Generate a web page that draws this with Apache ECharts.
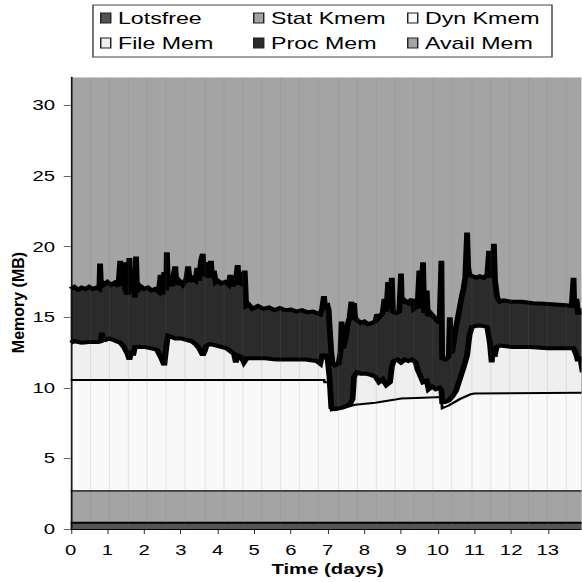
<!DOCTYPE html>
<html><head><meta charset="utf-8">
<script src="https://cdn.jsdelivr.net/npm/echarts@6/dist/echarts.min.js"></script>
<style>
html,body{margin:0;padding:0;overflow:hidden;background:#fff}
#wrap{width:582px;height:582px;overflow:hidden;position:relative;background:#fff}
#c{position:absolute;left:0;top:0;height:582px;transform-origin:0 0}
</style></head>
<body><div id="wrap"><div id="c"></div></div>
<script>
// ---- data (days, cumulative memory in MB at the top of each layer) ----
const seriesNames = ['Lotsfree','Stat Kmem','Dyn Kmem','File Mem','Proc Mem','Avail Mem'];
const xTicks = [0,1,2,3,4,5,6,7,8,9,10,11,12,13];
const yTicks = [0,5,10,15,20,25,30];

const availTop = [[0,32],[13.95,32]];
const procTop = [[0,17.0],[0.1,17.15],[0.2,16.95],[0.3,17.1],[0.4,17.0],[0.5,17.15],[0.6,17.0],[0.7,17.1],[0.78,17.0],[0.8,18.8],[0.82,17.6],[0.9,17.3],[1.0,17.5],[1.1,17.3],[1.2,17.45],[1.3,17.2],[1.35,19.0],[1.38,17.3],[1.45,18.9],[1.48,17.0],[1.55,16.6],[1.6,19.2],[1.63,16.8],[1.7,17.6],[1.75,16.4],[1.78,19.3],[1.81,16.8],[1.9,17.2],[2.0,17.0],[2.1,17.1],[2.2,16.9],[2.3,17.0],[2.4,16.8],[2.45,18.0],[2.5,16.6],[2.55,18.2],[2.6,16.9],[2.62,19.6],[2.65,17.4],[2.7,18.0],[2.75,17.2],[2.85,18.6],[2.88,17.3],[2.95,17.6],[3.05,17.3],[3.15,17.7],[3.2,18.6],[3.25,17.5],[3.3,17.8],[3.4,17.6],[3.45,18.5],[3.5,17.6],[3.55,19.0],[3.6,19.5],[3.63,17.9],[3.7,18.9],[3.73,17.8],[3.8,18.4],[3.82,19.0],[3.85,17.8],[3.9,18.3],[3.95,17.5],[4.0,17.6],[4.1,17.4],[4.2,17.5],[4.3,17.3],[4.35,18.0],[4.4,17.2],[4.5,17.6],[4.55,18.7],[4.58,17.3],[4.65,18.2],[4.7,17.2],[4.74,18.3],[4.76,17.2],[4.78,15.8],[4.85,15.9],[4.95,15.6],[5.1,15.8],[5.25,15.6],[5.4,15.7],[5.55,15.5],[5.7,15.65],[5.85,15.5],[6.0,15.55],[6.15,15.4],[6.3,15.5],[6.45,15.35],[6.6,15.4],[6.75,15.25],[6.8,15.2],[6.85,15.6],[6.9,16.5],[6.93,15.7],[7.0,15.8],[7.03,15.5],[7.05,14.5],[7.1,12.5],[7.13,11.8],[7.2,11.6],[7.3,11.7],[7.35,12.5],[7.38,14.7],[7.42,12.8],[7.5,13.6],[7.55,14.5],[7.6,15.0],[7.65,16.1],[7.68,14.8],[7.72,16.0],[7.75,15.0],[7.8,14.8],[7.9,14.6],[8.0,14.7],[8.1,14.5],[8.2,14.6],[8.3,14.7],[8.35,15.2],[8.4,15.0],[8.5,15.3],[8.55,16.3],[8.6,15.4],[8.65,17.5],[8.68,15.6],[8.75,17.8],[8.78,15.4],[8.85,15.3],[8.95,15.4],[9.0,18.1],[9.02,16.0],[9.1,16.2],[9.2,16.0],[9.3,16.3],[9.35,15.6],[9.45,15.8],[9.5,18.3],[9.53,15.6],[9.6,18.9],[9.63,15.3],[9.7,16.9],[9.73,15.1],[9.8,15.3],[9.9,15.0],[9.97,14.8],[10.05,14.6],[10.1,19.0],[10.12,12.1],[10.2,12.0],[10.3,12.2],[10.33,15.0],[10.36,12.5],[10.4,12.6],[10.45,13.5],[10.5,14.3],[10.55,15.0],[10.6,15.7],[10.65,16.4],[10.7,17.0],[10.75,17.8],[10.8,21.0],[10.83,18.5],[10.87,18.0],[10.95,17.9],[11.05,17.8],[11.15,17.9],[11.25,17.8],[11.35,18.0],[11.4,19.7],[11.43,17.8],[11.5,18.2],[11.53,20.2],[11.56,17.6],[11.62,16.4],[11.7,16.1],[11.8,16.2],[12.0,16.1],[12.3,16.1],[12.6,16.0],[12.9,15.95],[13.2,15.9],[13.5,15.85],[13.65,15.8],[13.7,17.8],[13.72,15.8],[13.78,16.3],[13.82,15.2],[13.88,15.6],[13.95,15.2]];
const fileTop = [[0,13.2],[0.1,13.3],[0.3,13.2],[0.5,13.25],[0.75,13.25],[0.82,13.3],[0.85,13.9],[0.88,13.5],[0.95,13.4],[1.05,13.5],[1.15,13.4],[1.25,13.3],[1.35,13.2],[1.45,12.9],[1.55,12.4],[1.6,12.0],[1.65,12.6],[1.7,12.3],[1.75,12.9],[1.85,12.9],[2.0,12.9],[2.2,12.8],[2.35,12.7],[2.45,12.2],[2.55,11.6],[2.58,12.3],[2.62,13.2],[2.65,13.7],[2.75,13.6],[2.85,13.5],[3.0,13.5],[3.15,13.4],[3.3,13.3],[3.4,13.1],[3.5,12.8],[3.6,12.3],[3.65,12.6],[3.7,13.0],[3.8,13.1],[3.95,13.0],[4.1,12.9],[4.25,12.8],[4.35,12.6],[4.45,12.4],[4.5,11.8],[4.55,12.3],[4.65,12.2],[4.72,11.8],[4.8,12.1],[5.0,12.1],[5.3,12.1],[5.6,12.0],[6.0,12.0],[6.4,12.0],[6.7,11.9],[6.8,11.7],[6.85,12.3],[6.95,12.3],[7.0,12.0],[7.05,10.8],[7.1,8.6],[7.2,8.5],[7.4,8.6],[7.6,8.8],[7.68,9.2],[7.72,10.8],[7.8,11.1],[7.9,11.0],[8.05,11.0],[8.2,10.9],[8.3,10.8],[8.4,10.4],[8.5,10.6],[8.6,10.2],[8.7,10.4],[8.75,11.5],[8.8,11.9],[8.9,12.0],[9.0,11.8],[9.1,12.0],[9.2,11.9],[9.3,12.0],[9.4,11.8],[9.45,11.3],[9.5,11.0],[9.6,10.4],[9.7,10.5],[9.75,9.9],[9.85,10.1],[9.95,9.9],[10.05,10.0],[10.1,9.8],[10.12,9.0],[10.2,9.0],[10.3,9.1],[10.4,9.4],[10.5,9.8],[10.6,10.6],[10.7,11.4],[10.8,12.3],[10.87,13.8],[10.93,14.3],[11.05,14.4],[11.2,14.4],[11.35,14.3],[11.42,13.2],[11.47,11.8],[11.5,12.6],[11.55,12.2],[11.6,12.9],[11.7,13.0],[12.0,12.9],[12.5,12.9],[13.0,12.8],[13.6,12.8],[13.7,12.8],[13.78,12.3],[13.82,11.9],[13.88,12.2],[13.95,11.1]];
const dynTop = [[0,10.55],[6.9,10.55],[6.92,10.4],[7.05,10.4],[7.1,8.4],[7.3,8.5],[7.75,8.8],[8.3,8.95],[8.8,9.15],[9.0,9.25],[9.6,9.3],[10.1,9.35],[10.12,8.55],[10.3,8.75],[10.6,9.2],[10.9,9.55],[11.0,9.6],[13.95,9.65]];
const statTop = [[0,2.7],[13.95,2.7]];
const lotsTop = [[0,0.44],[13.95,0.44]];

// ---- styling / layout ----
const S = 1.45;                // horizontal text stretch of the reference
const W = 582 / S;
const el = document.getElementById('c');
el.style.width = W + 'px';
el.style.transform = 'scaleX(' + S + ')';

const FILL = {'Lotsfree':'#555555','Stat Kmem':'#a4a4a4','Dyn Kmem':'#f9f9f9','File Mem':'#efefef','Proc Mem':'#2b2b2b','Avail Mem':'#a4a4a4'};
const FONT = '"Liberation Sans", Arial, Helvetica, sans-serif';

function layer(name, data, lw) {
  return {
    name: name, type: 'line', data: data, symbol: 'none', showSymbol: false,
    silent: true, animation: false, clip: true,
    lineStyle: {color: '#000', width: lw, join: 'miter', miterLimit: 3},
    itemStyle: {color: FILL[name]},
    areaStyle: {color: FILL[name], opacity: 1},
    emphasis: {disabled: true}
  };
}

const legendPos = [[100,10],[253,10],[407,10],[100,35],[253,35],[407,35]];
const legends = seriesNames.map(function (n, i) {
  return {
    left: legendPos[i][0] / S, top: legendPos[i][1], padding: 0,
    icon: 'rect', itemWidth: 10 / S, itemHeight: 10, itemGap: 0,
    selectedMode: false,
    textStyle: {fontSize: 16, color: '#000', fontFamily: FONT},
    data: [{name: n, itemStyle: {color: FILL[n], borderColor: '#222', borderWidth: 1}}]
  };
});

const chart = echarts.init(el, null, {renderer: 'svg'});
chart.setOption({
  animation: false,
  backgroundColor: '#fff',
  textStyle: {fontFamily: FONT},
  legend: legends,
  grid: {left: 70.7 / S, right: -3.1 / S, top: 77.3, bottom: 53, containLabel: false, outerBoundsMode: 'none'},
  xAxis: [
    {type: 'value', min: 0, max: 14, interval: 1, position: 'bottom', z: 5,
     axisLine: {show: true, onZero: false, lineStyle: {color: '#000', width: 1}},
     axisTick: {show: true, length: 5, customValues: xTicks, lineStyle: {color: '#000', width: 1 / S}},
     axisLabel: {show: true, margin: 14, fontSize: 14, color: '#000', fontFamily: FONT, customValues: xTicks},
     splitLine: {show: false},
     name: 'Time (days)', nameLocation: 'middle', nameGap: 24,
     nameTextStyle: {fontWeight: 'bold', fontSize: 14, color: '#000', fontFamily: FONT}},
    {type: 'value', min: 0, max: 14, interval: 0.5193, position: 'top', z: 6,
     axisLine: {show: false}, axisTick: {show: false}, axisLabel: {show: false},
     splitLine: {show: true, lineStyle: {color: 'rgba(120,120,120,0.16)', width: 0.7}}}
  ],
  yAxis: {type: 'value', min: 0, max: 32, interval: 5, z: 5,
    axisLine: {show: true, lineStyle: {color: '#000', width: 1}},
    axisTick: {show: true, length: 7 / S, customValues: yTicks, lineStyle: {color: '#666'}},
    axisLabel: {show: true, margin: 15.7 / S, fontSize: 14, color: '#000', fontFamily: FONT, customValues: yTicks},
    splitLine: {show: false}},
  graphic: [
    {type: 'rect', silent: true, shape: {x: 93 / S, y: 5, width: (552 - 93) / S, height: 52},
     style: {fill: 'none', stroke: '#444', lineWidth: 1}},
    {type: 'text', silent: true, x: 18.5 / S, y: 302.5, rotation: Math.PI / 2, scaleY: 1 / S,
     style: {text: 'Memory (MB)', font: 'bold 16px ' + FONT, fill: '#000', align: 'center', verticalAlign: 'middle'}}
  ],
  series: [
    layer('Avail Mem', availTop, 0),
    layer('Proc Mem', procTop, 4),
    layer('File Mem', fileTop, 4),
    layer('Dyn Kmem', dynTop, 2),
    layer('Stat Kmem', statTop, 1.3),
    layer('Lotsfree', lotsTop, 2)
  ]
});
</script>
</body></html>
